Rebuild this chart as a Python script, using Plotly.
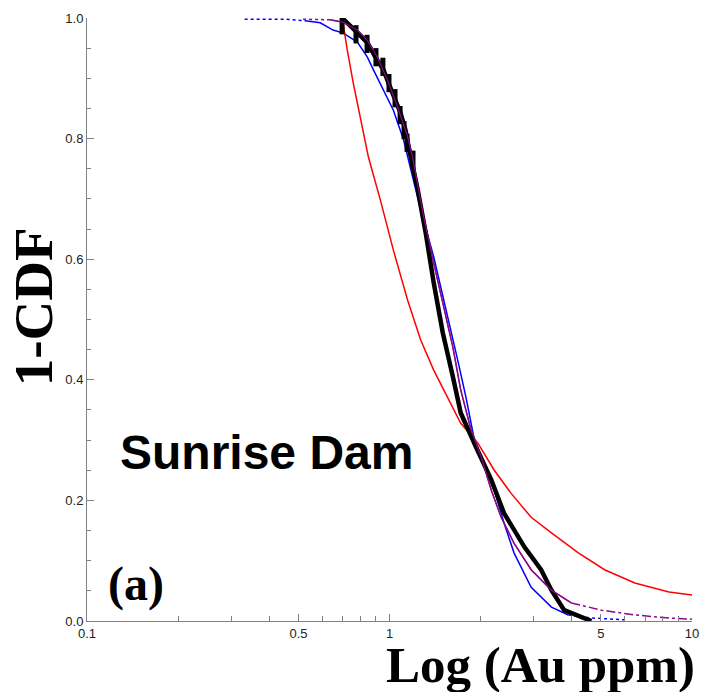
import plotly.graph_objects as go

# ---- data (x in Au ppm, y = 1-CDF) ----
black_x = [0.698, 0.771, 0.845, 0.898, 0.955, 0.993, 1.047, 1.088, 1.13, 1.157,
           1.24, 1.318, 1.40, 1.50, 1.62, 1.72, 1.93, 2.17, 2.39, 2.79, 3.17,
           3.43, 3.78, 4.41, 4.65]
black_y = [1.0, 0.978, 0.959, 0.935, 0.914, 0.892, 0.864, 0.842, 0.814, 0.786,
           0.715, 0.643, 0.561, 0.478, 0.405, 0.345, 0.289, 0.234, 0.179, 0.123,
           0.085, 0.051, 0.018, 0.005, 0.0]
# visible steps of the empirical curve near the top
step_x = [0.697, 0.775, 0.843, 0.902, 0.951, 0.996, 1.043, 1.084, 1.117, 1.143, 1.196]
step_y = [0.988, 0.973, 0.957, 0.935, 0.919, 0.892, 0.867, 0.839, 0.814, 0.793, 0.765]

blue_x = [0.332, 0.458, 0.534, 0.590, 0.651, 0.703, 0.783, 0.845, 0.885, 0.955,
          1.03, 1.113, 1.268, 1.40, 1.56, 1.68, 1.79, 1.90, 2.05, 2.22, 2.39,
          2.58, 2.94, 3.43, 3.90, 4.65, 5.99]
blue_y = [0.998, 0.998, 0.995, 0.992, 0.980, 0.975, 0.960, 0.935, 0.914, 0.881,
          0.847, 0.798, 0.682, 0.604, 0.504, 0.433, 0.371, 0.305, 0.262, 0.217,
          0.163, 0.113, 0.056, 0.023, 0.010, 0.005, 0.002]

purple_x = [0.518, 0.637, 0.703, 0.783, 0.845, 0.912, 0.985, 1.064, 1.148, 1.192,
            1.297, 1.40, 1.51, 1.62, 1.72, 1.86, 2.01, 2.17, 2.34, 2.58, 2.94,
            3.43, 3.99, 5.02, 6.47, 8.39, 10.0]
purple_y = [0.998, 0.997, 0.993, 0.980, 0.963, 0.935, 0.897, 0.852, 0.803, 0.769,
            0.670, 0.594, 0.521, 0.454, 0.383, 0.317, 0.272, 0.217, 0.172, 0.129,
            0.085, 0.051, 0.030, 0.018, 0.010, 0.005, 0.003]

red_x = [0.698, 0.725, 0.759, 0.801, 0.852, 0.933, 1.03, 1.148, 1.268, 1.40,
         1.56, 1.72, 1.96, 2.22, 2.52, 2.94, 3.43, 4.21, 5.14, 6.47, 8.39, 10.0]
red_y = [1.0, 0.947, 0.892, 0.836, 0.769, 0.698, 0.615, 0.532, 0.466, 0.416,
         0.371, 0.328, 0.295, 0.250, 0.212, 0.172, 0.146, 0.113, 0.085, 0.063,
         0.048, 0.043]

x_tickvals = [0.1, 0.5, 1, 5, 10]
x_ticktext = ["0.1", "0.5", "1", "5", "10"]
x_minor = [0.2, 0.3, 0.4, 0.6, 0.7, 0.8, 0.9, 2, 3, 4, 6, 7, 8, 9]
y_tickvals = [0.0, 0.2, 0.4, 0.6, 0.8, 1.0]

BLUE = "#0000ff"
PURPLE = "#8b0a8b"
RED = "#ff0000"

fig = go.Figure()

def line(x, y, color, width, dash="solid"):
    fig.add_trace(go.Scatter(x=x, y=y, mode="lines",
                             line=dict(color=color, width=width, dash=dash),
                             showlegend=False))

# blue: dotted flat start, solid body, dotted tail
line(blue_x[:3], blue_y[:3], BLUE, 1.5, "dot")
line(blue_x[2:-2], blue_y[2:-2], BLUE, 1.5)
line(blue_x[-3:], blue_y[-3:], BLUE, 1.5, "dot")
# purple: dotted start, solid body, dash-dot tail
line(purple_x[:2], purple_y[:2], PURPLE, 1.5, "dot")
line(purple_x[1:-4], purple_y[1:-4], PURPLE, 1.5)
line(purple_x[-5:], purple_y[-5:], PURPLE, 1.5, "dashdot")
# red
line(red_x, red_y, RED, 1.5)
# black empirical curve
line(black_x, black_y, "#000000", 4.5)
fig.add_trace(go.Scatter(x=step_x, y=step_y, mode="markers",
                         marker=dict(symbol="line-ns", size=13,
                                     line=dict(color="#000000", width=5)),
                         showlegend=False))
# purple re-drawn over black so it remains visible on top
line(purple_x[1:-4], purple_y[1:-4], PURPLE, 1.2)

axis_common = dict(showline=True, linecolor="#808080", linewidth=1,
                   ticks="inside", tickcolor="#808080", ticklen=7,
                   showgrid=False, zeroline=False, mirror=False, automargin=False,
                   tickfont=dict(family="Liberation Sans, Arial", size=13, color="#222222"))

fig.update_xaxes(type="log", range=[-1, 1], tickvals=x_tickvals, ticktext=x_ticktext,
                 minor=dict(tickvals=x_minor, ticks="inside", ticklen=5, tickcolor="#808080"),
                 **axis_common)
fig.update_yaxes(range=[0, 1], tickvals=y_tickvals, tickformat=".1f",
                 minor=dict(dtick=0.05, ticks="inside", ticklen=4, tickcolor="#808080"),
                 **axis_common)

# plot area: x 87..692 px, y 18..621 px
fig.update_layout(
    width=704, height=692,
    margin=dict(l=87, r=12, t=18, b=71),
    paper_bgcolor="white", plot_bgcolor="white",
    annotations=[
        dict(text="<b>1-CDF</b>", xref="paper", yref="paper", x=-0.0893, y=0.522,
             xanchor="center", yanchor="middle", textangle=-90, showarrow=False,
             font=dict(family="Liberation Serif, Times New Roman", size=55, color="black")),
        dict(text="<b>Log (Au ppm)</b>", xref="paper", yref="paper", x=0.749, y=-0.073,
             xanchor="center", yanchor="middle", showarrow=False,
             font=dict(family="Liberation Serif, Times New Roman", size=51, color="black")),
        dict(text="<b>Sunrise Dam</b>", xref="paper", yref="paper", x=0.296, y=0.280,
             xanchor="center", yanchor="middle", showarrow=False,
             font=dict(family="Liberation Sans, Arial", size=48, color="black")),
        dict(text="<b>(a)</b>", xref="paper", yref="paper", x=0.081, y=0.061,
             xanchor="center", yanchor="middle", showarrow=False,
             font=dict(family="Liberation Serif, Times New Roman", size=48, color="black")),
    ],
)

fig.write_html("out.html")
